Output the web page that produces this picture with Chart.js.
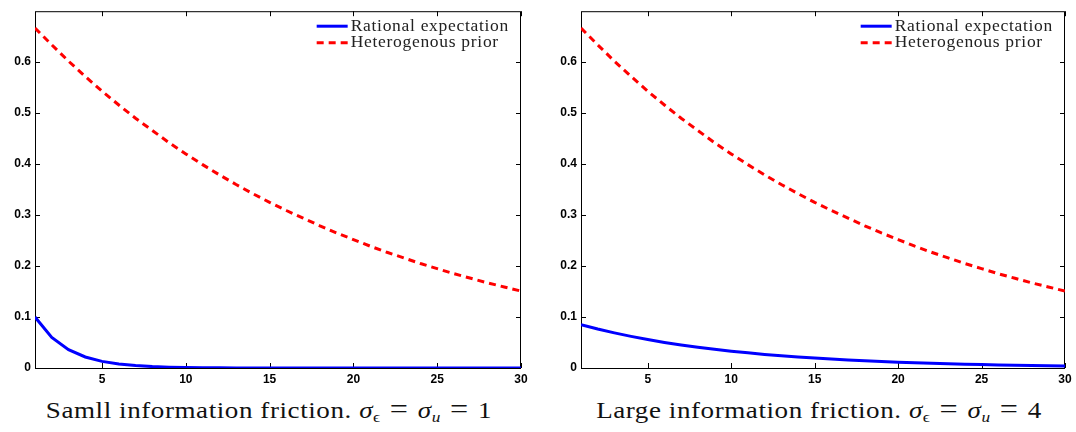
<!DOCTYPE html>
<html>
<head>
<meta charset="utf-8">
<script src="https://cdn.jsdelivr.net/npm/chart.js@4.4.1/dist/chart.umd.min.js"></script>
<style>
  body { margin: 0; background: #fff; }
  #wrap { position: relative; width: 1076px; height: 432px; overflow: hidden; }
  .panel { position: absolute; top: 0; width: 540px; height: 390px; }
  .caption {
    position: absolute; top: 395px; width: 540px; text-align: center;
    font-family: "Liberation Serif", "Times New Roman", serif; font-size: 23.5px;
    line-height: 30px; letter-spacing: 0.5px; color: #111; white-space: nowrap;
    transform: scaleX(1.15); transform-origin: 50% 50%;
  }
  .caption i { font-style: italic; }
  .caption sub { font-size: 15px; vertical-align: -4px; line-height: 0; }
  .caption .eq { font-size: 28px; line-height: 0; padding: 0 8px; }
</style>
</head>
<body>
<div id="wrap">
  <div class="panel" style="left:0"><canvas id="leftChart" width="540" height="390"></canvas></div>
  <div class="panel" style="left:540px"><canvas id="rightChart" width="536" height="390"></canvas></div>
  <div class="caption" style="left:-1px">Samll information friction. <i>σ</i><sub>ϵ</sub><span class="eq">=</span><i>σ</i><sub><i>u</i></sub><span class="eq">=</span>1</div>
  <div class="caption" style="left:549px">Large information friction. <i>σ</i><sub>ϵ</sub><span class="eq">=</span><i>σ</i><sub><i>u</i></sub><span class="eq">=</span>4</div>
</div>
<script>
// horizon (periods)
const periods = [1, 2, 3, 4, 5, 6, 7, 8, 9, 10, 11, 12, 13, 14, 15,
                 16, 17, 18, 19, 20, 21, 22, 23, 24, 25, 26, 27, 28, 29, 30];

// heterogenous prior, same in both panels
const heteroPrior = [0.667, 0.634, 0.602, 0.572, 0.543, 0.516, 0.490, 0.466, 0.442, 0.420,
                     0.399, 0.379, 0.360, 0.342, 0.325, 0.309, 0.294, 0.279, 0.265, 0.252,
                     0.239, 0.227, 0.216, 0.205, 0.195, 0.185, 0.176, 0.167, 0.159, 0.151];

// rational expectation, small friction (sigma = 1)
const rationalSmall = [0.100, 0.060, 0.036, 0.0216, 0.013, 0.0078, 0.0047, 0.0028, 0.0017, 0.0010,
                       0.0006, 0.0004, 0.0002, 0.0001, 0.0001, 0, 0, 0, 0, 0,
                       0, 0, 0, 0, 0, 0, 0, 0, 0, 0];

// rational expectation, large friction (sigma = 4)
const rationalLarge = [0.085, 0.0765, 0.0689, 0.062, 0.0558, 0.0502, 0.0451, 0.0406, 0.0366, 0.0329,
                       0.0297, 0.0267, 0.024, 0.0216, 0.0195, 0.0175, 0.0157, 0.0142, 0.0128, 0.0115,
                       0.0104, 0.0093, 0.0083, 0.0076, 0.0068, 0.0061, 0.0055, 0.0049, 0.0044, 0.004];

const xTicks = [5, 10, 15, 20, 25, 30];
const yTicks = [0, 0.1, 0.2, 0.3, 0.4, 0.5, 0.6];
const seriesNames = ['Rational expectation', 'Heterogenous prior'];

const tickFont = { family: 'Arial, "Liberation Sans", sans-serif', size: 12, weight: 700 };

function toPoints(values) {
    return periods.map((p, i) => ({ x: p, y: values[i] }));
}

// MATLAB style box with inward ticks on all sides
const boxPlugin = {
    id: 'box',
    beforeDatasetsDraw(chart) {
        const { ctx, chartArea: a, scales } = chart;
        ctx.save();
        ctx.strokeStyle = '#000';
        ctx.lineWidth = 1;
        ctx.strokeRect(a.left + 0.5, a.top + 0.5, a.right - a.left - 1, a.bottom - a.top);
        ctx.beginPath();
        xTicks.forEach(v => {
            const x = Math.round(scales.x.getPixelForValue(v)) + 0.5;
            ctx.moveTo(x, a.bottom); ctx.lineTo(x, a.bottom - 5);
            ctx.moveTo(x, a.top); ctx.lineTo(x, a.top + 5);
        });
        yTicks.forEach(v => {
            const y = Math.round(scales.y.getPixelForValue(v)) + 0.5;
            ctx.moveTo(a.left, y); ctx.lineTo(a.left + 5, y);
            ctx.moveTo(a.right, y); ctx.lineTo(a.right - 5, y);
        });
        ctx.stroke();
        ctx.restore();
    }
};

// legend drawn inside the plot, top right, no frame
const innerLegend = {
    id: 'innerLegend',
    afterDraw(chart) {
        const { ctx, chartArea: a } = chart;
        ctx.save();
        ctx.font = '17.5px "Liberation Serif", serif';
        ctx.letterSpacing = '0.7px';
        ctx.fillStyle = '#222';
        ctx.textBaseline = 'middle';
        const widths = chart.data.datasets.map(d => ctx.measureText(d.label).width);
        const textX = a.right - 12 - Math.max(...widths);
        chart.data.datasets.forEach((d, i) => {
            const y = a.top + 15 + i * 16.5;
            ctx.beginPath();
            ctx.strokeStyle = d.borderColor;
            ctx.lineWidth = 3;
            ctx.setLineDash(d.borderDash || []);
            ctx.moveTo(textX - 34, y);
            ctx.lineTo(textX - 3, y);
            ctx.stroke();
            ctx.setLineDash([]);
            ctx.fillText(d.label, textX, y);
        });
        ctx.restore();
    }
};

function makeChart(id, rational, plotLeft, plotRight) {
    const canvas = document.getElementById(id);
    new Chart(canvas.getContext('2d'), {
        type: 'line',
        data: {
            datasets: [{
                label: seriesNames[0],
                data: toPoints(rational),
                borderColor: '#0000ff',
                borderWidth: 3,
                pointRadius: 0,
                tension: 0
            }, {
                label: seriesNames[1],
                data: toPoints(heteroPrior),
                borderColor: '#ff0000',
                borderWidth: 3,
                borderDash: [7, 5],
                pointRadius: 0,
                tension: 0
            }]
        },
        options: {
            responsive: false,
            animation: false,
            layout: { padding: { left: 0, top: 10, right: canvas.width - plotRight, bottom: 0 } },
            plugins: { legend: { display: false }, tooltip: { enabled: false } },
            scales: {
                x: {
                    type: 'linear',
                    min: 1,
                    max: 30,
                    afterBuildTicks: s => { s.ticks = xTicks.map(v => ({ value: v })); },
                    afterFit: s => { s.height = 22; },
                    grid: { display: false, drawTicks: false },
                    border: { display: false },
                    ticks: { font: tickFont, color: '#000', padding: 4, maxRotation: 0 }
                },
                y: {
                    min: 0,
                    max: 0.7,
                    afterBuildTicks: s => { s.ticks = yTicks.map(v => ({ value: v })); },
                    afterFit: s => { s.width = plotLeft; },
                    grid: { display: false, drawTicks: false },
                    border: { display: false },
                    ticks: {
                        font: tickFont, color: '#000', padding: 4,
                        callback: v => v === 0 ? '0' : v.toFixed(1)
                    }
                }
            }
        },
        plugins: [boxPlugin, innerLegend]
    });
}

makeChart('leftChart', rationalSmall, 35, 521);
makeChart('rightChart', rationalLarge, 41, 525);
</script>
</body>
</html>
